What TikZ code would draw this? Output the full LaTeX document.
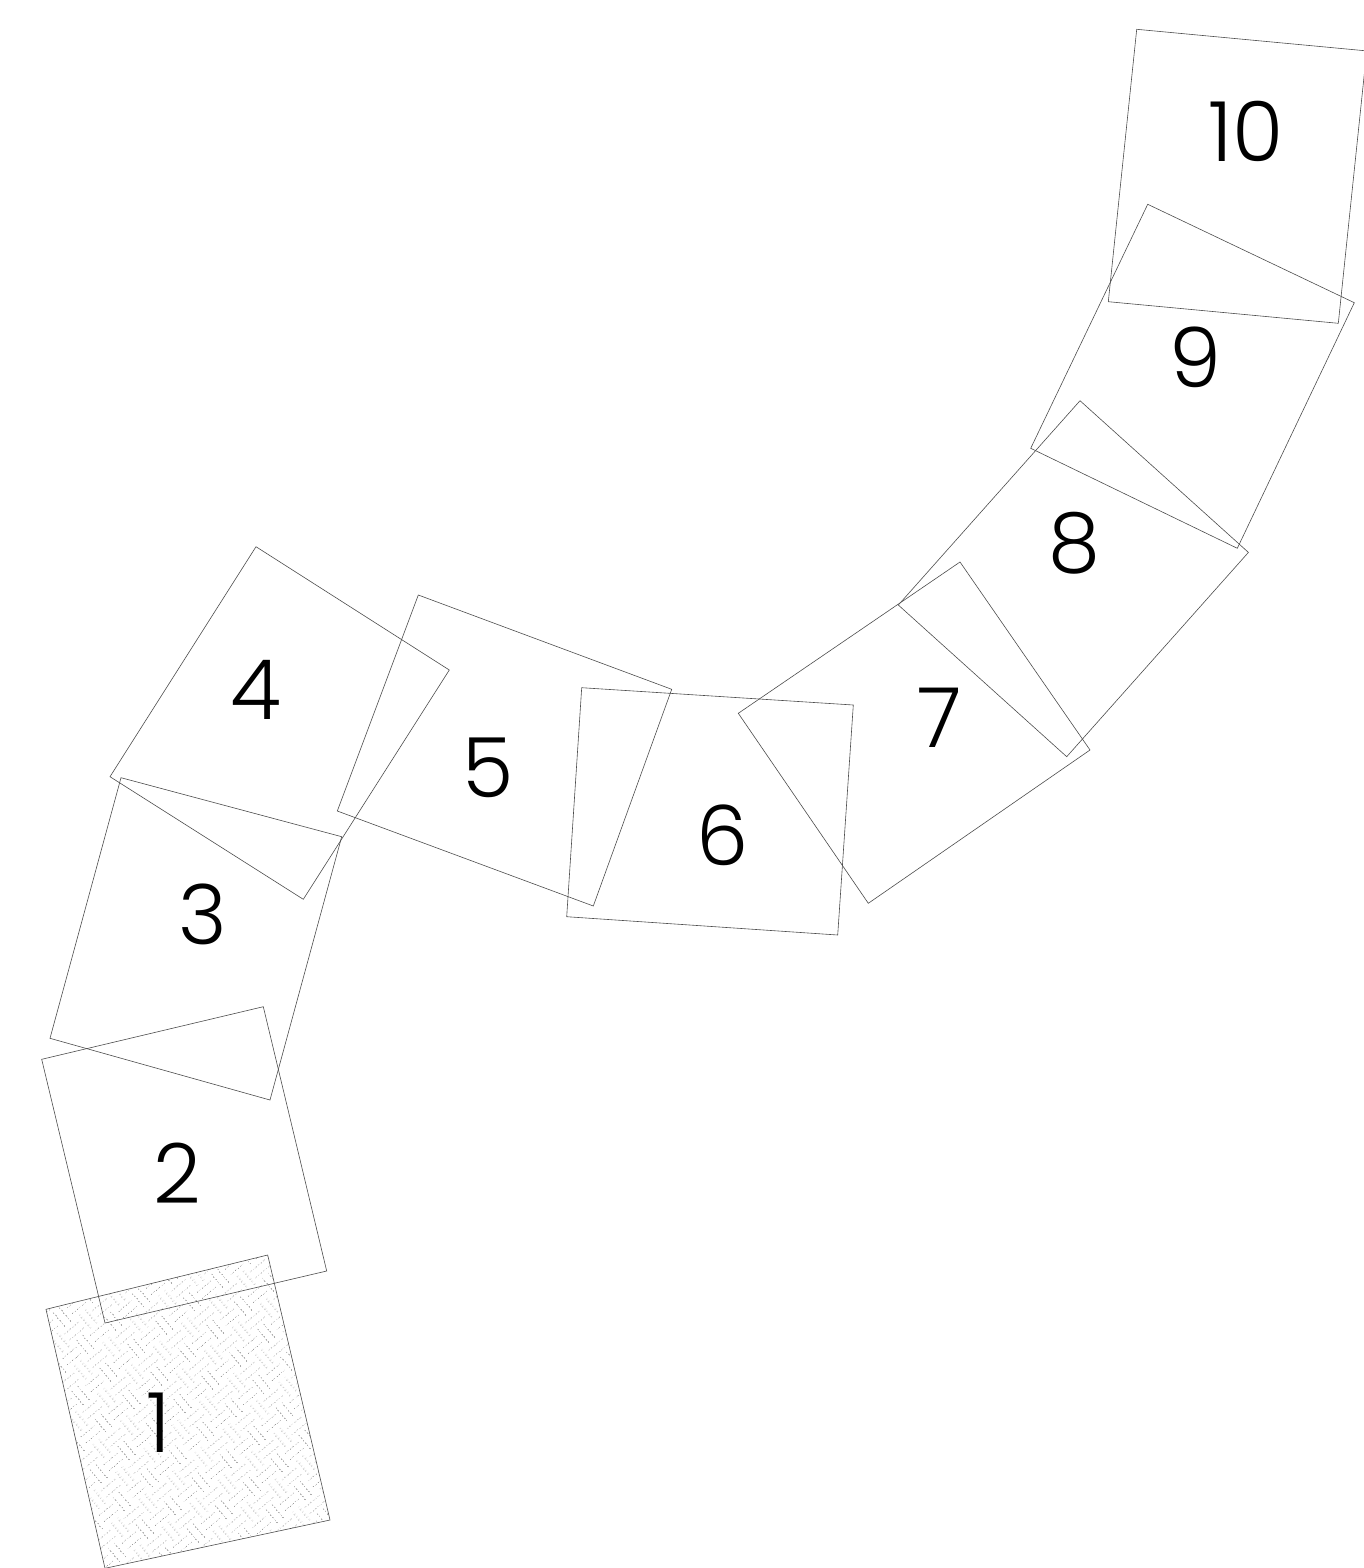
\documentclass[tikz,border=0pt]{standalone}
\usepackage{fontspec}
\setmainfont{Poppins Light}
\usetikzlibrary{patterns.meta}
\tikzdeclarepattern{
  name=weave,
  type=colored,
  bounding box={(0pt,0pt) and (36pt,36pt)},
  tile size={(36pt,36pt)},
  tile transformation={rotate=40},
  code={
    \draw[black!50, line width=0.6pt, dash pattern=on 1.4pt off 2pt]
      (0pt,5pt) -- (18pt,5pt) (0pt,13pt) -- (18pt,13pt)
      (23pt,0pt) -- (23pt,18pt) (31pt,0pt) -- (31pt,18pt)
      (5pt,18pt) -- (5pt,36pt) (13pt,18pt) -- (13pt,36pt)
      (18pt,23pt) -- (36pt,23pt) (18pt,31pt) -- (36pt,31pt);
  }
}
\tikzset{
  sq/.style={draw=black!70, line width=0.6pt, line join=miter},
  lbl/.style={inner sep=0pt, font=\fontsize{83}{90}\selectfont, text=black}
}
\begin{document}
\begin{tikzpicture}[x=1pt,y=-1pt]
\useasboundingbox (0,0) rectangle (1364,1568);
\clip (0,0) rectangle (1364,1568);
% square 1 (patterned)
\draw[sq, pattern=weave] (46,1309.3) -- (267.7,1255) -- (330,1520) -- (105,1568.3) -- cycle;
% squares 2..10
\draw[sq] (41.7,1059.3) -- (263.3,1006.7) -- (326.7,1271) -- (105,1323) -- cycle;
\draw[sq] (121,777.7) -- (341.7,836.7) -- (270,1100) -- (50,1038.3) -- cycle;
\draw[sq] (256,546.7) -- (449.3,670) -- (303.3,899.3) -- (110,776.7) -- cycle;
\draw[sq] (418.3,595) -- (671.7,689.3) -- (593.3,906) -- (337.3,811) -- cycle;
\draw[sq] (581.7,687.7) -- (853.3,705) -- (837.7,935) -- (566.7,916.7) -- cycle;
\draw[sq] (738.3,713.3) -- (960,562) -- (1090,750) -- (868.3,903.3) -- cycle;
\draw[sq] (898.3,605) -- (1080,400.7) -- (1248.4,552.4) -- (1066.7,756.7) -- cycle;
\draw[sq] (1147.7,204.3) -- (1354.3,302.7) -- (1237.3,548.3) -- (1030.7,448.3) -- cycle;
\draw[sq] (1136.7,29.3) -- (1366.7,50.9) -- (1338.3,323.3) -- (1108.3,301.7) -- cycle;
% labels
\node[lbl] (l1) at (159,1422.5) {1};
\node[lbl] (l2) at (177.5,1173) {2};
\node[lbl] (l3) at (202.5,914) {3};
\node[lbl] (l4) at (256,690) {4};
\node[lbl] (l5) at (488,767.5) {5};
\node[lbl] (l6) at (722.5,835) {6};
\node[lbl] (l7) at (940,718) {7};
\node[lbl] (l8) at (1074,543) {8};
\node[lbl] (l9) at (1195.5,357.7) {9};
\node[lbl] (l10) at (1246,131.7) {10};
\end{tikzpicture}
\end{document}
